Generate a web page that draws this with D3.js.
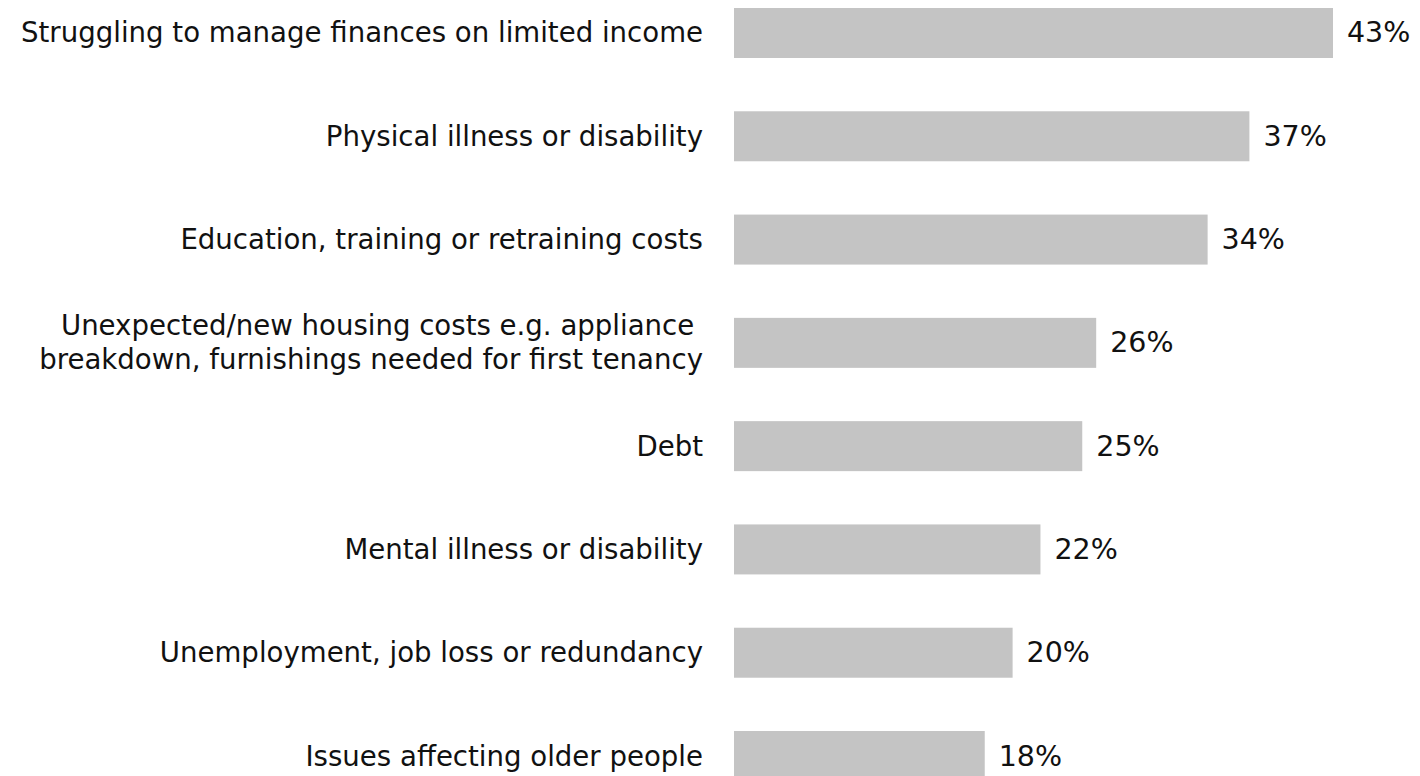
<!DOCTYPE html>
<html>
<head>
<meta charset="utf-8">
<script src="https://cdn.jsdelivr.net/npm/d3@7"></script>
<style>
  html, body { margin: 0; padding: 0; background: #ffffff; }
  svg { display: block; }
  text { font-family: "DejaVu Sans", Verdana, sans-serif; fill: #111111; }
</style>
</head>
<body>
<svg id="chart" width="1420" height="776"></svg>
<script>
const categories = [
  ["Struggling to manage finances on limited income"],
  ["Physical illness or disability"],
  ["Education, training or retraining costs"],
  ["Unexpected/new housing costs e.g. appliance ", "breakdown, furnishings needed for first tenancy"],
  ["Debt"],
  ["Mental illness or disability"],
  ["Unemployment, job loss or redundancy"],
  ["Issues affecting older people"]
];
const values = [43, 37, 34, 26, 25, 22, 20, 18];
const valueLabels = ["43%", "37%", "34%", "26%", "25%", "22%", "20%", "18%"];

const svg = d3.select("#chart");
const ids = d3.range(categories.length);

const y = d3.scaleBand()
  .domain(ids)
  .range([8, 781])
  .paddingInner(0.516)
  .paddingOuter(0);

const x = d3.scaleLinear()
  .domain([0, 50])
  .range([734, 734 + 50 * 13.93]);

const labelSize = 27.6;
const valueSize = 28.5;
const lineGap = 34;

svg.append("g").selectAll("rect")
  .data(ids)
  .join("rect")
  .attr("x", x(0))
  .attr("y", i => y(i))
  .attr("width", i => x(values[i]) - x(0))
  .attr("height", y.bandwidth())
  .attr("fill", "#c4c4c4");

const labels = svg.append("g").selectAll("text")
  .data(ids)
  .join("text")
  .attr("x", 703)
  .attr("y", i => y(i) + y.bandwidth() / 2)
  .attr("text-anchor", "end")
  .attr("font-size", labelSize)
  .style("white-space", "pre");

labels.each(function(i) {
  const lines = categories[i];
  const n = lines.length;
  d3.select(this).selectAll("tspan")
    .data(lines)
    .join("tspan")
    .attr("x", 703)
    .attr("dy", (d, k) => k === 0 ? ((-(n - 1) / 2) * lineGap) : lineGap)
    .attr("dominant-baseline", "central")
    .text(d => d);
});

svg.append("g").selectAll("text")
  .data(ids)
  .join("text")
  .attr("x", i => x(values[i]) + 14)
  .attr("y", i => y(i) + y.bandwidth() / 2)
  .attr("dominant-baseline", "central")
  .attr("font-size", valueSize)
  .text(i => valueLabels[i]);
</script>
</body>
</html>
